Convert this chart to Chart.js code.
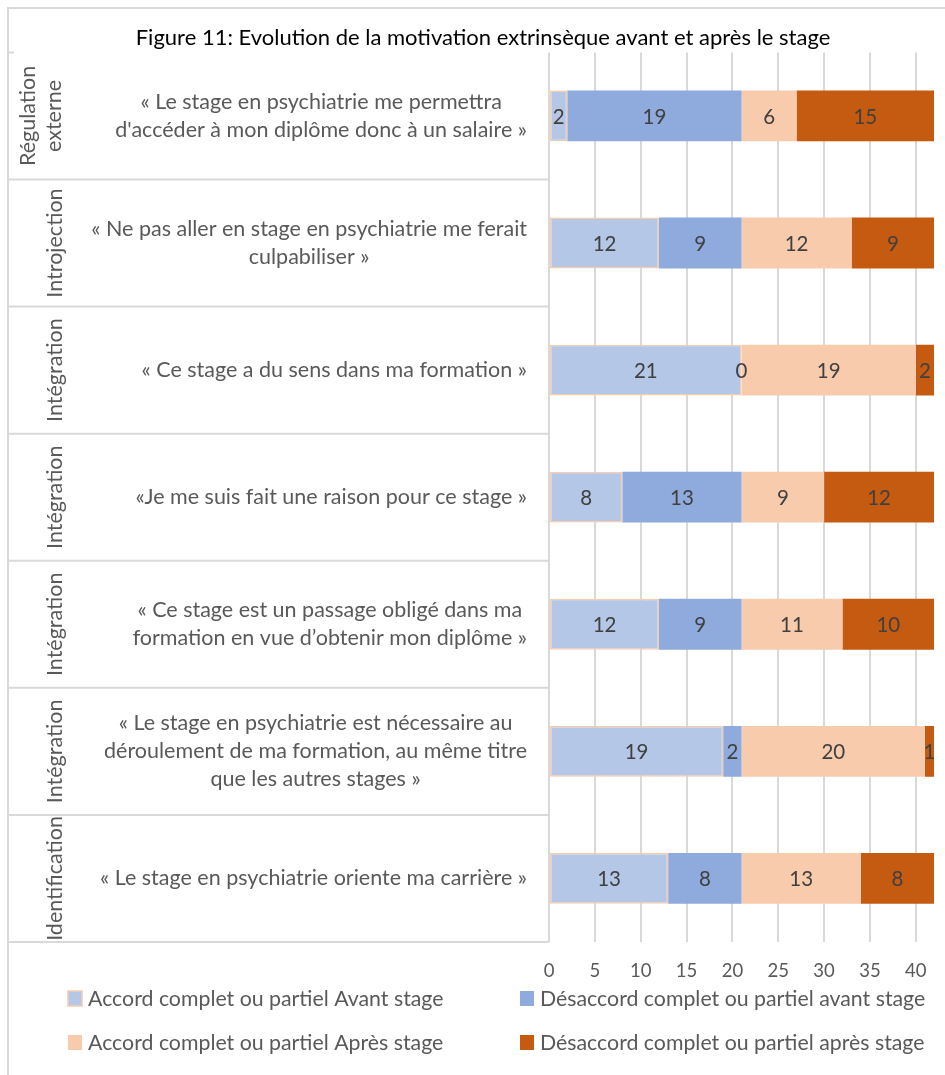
<!DOCTYPE html>
<html>
<head>
<meta charset="utf-8">
<script src="https://cdn.jsdelivr.net/npm/chart.js@4.4.1/dist/chart.umd.min.js"></script>
<style>
body{margin:0;background:#fff}
#wrap{width:945px;height:1075px}
</style>
</head>
<body>
<div id="wrap"><canvas id="c" width="945" height="1075"></canvas></div>
<script>

// data
const categories = [
["« Le stage en psychiatrie me permettra","d'accéder à mon diplôme donc à un salaire »"],
["« Ne pas aller en stage en psychiatrie me ferait","culpabiliser »"],
["« Ce stage a du sens dans ma formation »"],
["«Je me suis fait une raison pour ce stage »"],
["« Ce stage est un passage obligé dans ma","formation en vue d’obtenir mon diplôme »"],
["« Le stage en psychiatrie est nécessaire au","déroulement de ma formation, au même titre","que les autres stages »"],
["« Le stage en psychiatrie oriente ma carrière »"]
]

const groups = [
["Régulation","externe"],
["Introjection"],
["Intégration"],
["Intégration"],
["Intégration"],
["Intégration"],
["Identification"]
]

const seriesNames = [
"Accord complet ou partiel Avant stage",
"Désaccord complet ou partiel avant stage",
"Accord complet ou partiel Après stage",
"Désaccord complet ou partiel après stage"
]

const accordAvant    = [2,12,21,8,12,19,13]
const desaccordAvant = [19,9,0,13,9,2,8]
const accordApres    = [6,12,19,9,11,20,13]
const desaccordApres = [15,9,2,12,10,1,8]

const xTicks = [0,5,10,15,20,25,30,35,40]

const colors = ["#B4C7E7","#8FAADC","#F8CBAD","#C55A11"]
const FONT = "Lato, 'Open Sans', sans-serif"
const GREY = "#595959"
const LINE = "#D9D9D9"

// left table: frame, separators, group names, statements
const tablePlugin = {
id:"table",
beforeDraw(chart){
const ctx = chart.ctx
const a = chart.chartArea
const band = (a.bottom - a.top) / categories.length
ctx.save()
ctx.strokeStyle = LINE
ctx.lineWidth = 2
ctx.beginPath()
ctx.moveTo(8,chart.height)
ctx.lineTo(8,8)
ctx.lineTo(chart.width,8)
ctx.stroke()
ctx.beginPath()
ctx.moveTo(8,a.top)
ctx.lineTo(14,a.top)
for(let k=1;k<=categories.length;k++){
const y = a.top + k*band
ctx.moveTo(8,y)
ctx.lineTo(a.left,y)
}
ctx.stroke()

ctx.fillStyle = GREY
ctx.textBaseline = "middle"
ctx.textAlign = "center"
ctx.font = "21.5px " + FONT
categories.forEach((lines,i)=>{
const yc = chart.scales.y.getPixelForValue(i)
// group name, rotated
const g = groups[i]
const gx = g.length > 1 ? [28,54] : [55]
g.forEach((t,j)=>{
ctx.save()
ctx.translate(gx[j],yc)
ctx.rotate(-Math.PI/2)
ctx.fillText(t,0,0)
ctx.restore()
})
// statement, block right aligned, lines centred
let w = 0
lines.forEach(t=>{ w = Math.max(w, ctx.measureText(t).width) })
const cx = 527 - w/2
const lh = 28
lines.forEach((t,j)=>{
ctx.fillText(t, cx, yc + (j - (lines.length-1)/2)*lh)
})
})
ctx.restore()
}
}

// values in the middle of every segment
const valuePlugin = {
id:"values",
afterDatasetsDraw(chart){
const ctx = chart.ctx
ctx.save()
ctx.font = "20.5px " + FONT
ctx.fillStyle = "#404040"
ctx.textAlign = "center"
ctx.textBaseline = "middle"
chart.data.datasets.forEach((ds,i)=>{
chart.getDatasetMeta(i).data.forEach((el,j)=>{
ctx.fillText(ds.data[j], (el.x + el.base)/2, el.y + 1)
})
})
ctx.restore()
}
}

// legend in two columns under the axis
const legendPlugin = {
id:"legend2",
afterDraw(chart){
const ctx = chart.ctx
const b = chart.chartArea.bottom
const cols = [68,520]
const rows = [b+57, b+101]
ctx.save()
ctx.font = "21.3px " + FONT
ctx.textBaseline = "middle"
ctx.textAlign = "left"
chart.data.datasets.forEach((ds,i)=>{
const x = cols[i%2]
const y = rows[Math.floor(i/2)]
ctx.fillStyle = ds.backgroundColor
ctx.fillRect(x, y-8, 14, 15)
if(ds.borderWidth){
ctx.strokeStyle = ds.borderColor
ctx.lineWidth = 1.5
ctx.strokeRect(x, y-8, 14, 15)
}
ctx.fillStyle = GREY
ctx.fillText(ds.label, x+20, y)
})
ctx.restore()
}
}

const series = [accordAvant, desaccordAvant, accordApres, desaccordApres]

new Chart(document.getElementById("c"),{
type:"bar",
data:{
labels:categories,
datasets:series.map((d,i)=>({
label:seriesNames[i],
data:d,
backgroundColor:colors[i],
borderColor:i==0 ? "#F8CBAD" : colors[i],
borderWidth:i==0 ? 1.5 : 0,
borderSkipped:false,
categoryPercentage:1,
barPercentage:0.4
}))
},
options:{
indexAxis:"y",
responsive:false,
animation:false,
layout:{padding:{left:31,right:10,top:0,bottom:93}},
plugins:{
legend:{display:false},
tooltip:{enabled:false},
title:{
display:true,
text:"Figure 11: Evolution de la motivation extrinsèque avant et après le stage",
color:"#000",
font:{family:FONT,size:22,weight:"normal"},
padding:{top:25,bottom:1}
}
},
scales:{
x:{
stacked:true,
min:0,
max:42,
afterBuildTicks(scale){ scale.ticks = xTicks.map(v=>({value:v})) },
afterFit(scale){ scale.height = 40 },
border:{display:false},
grid:{color:LINE,lineWidth:2,drawTicks:false},
ticks:{color:GREY,font:{family:FONT,size:18.5},padding:18}
},
y:{
stacked:true,
afterFit(scale){ scale.width = 518 },
border:{display:false},
grid:{display:false},
ticks:{display:false}
}
}
},
plugins:[tablePlugin,valuePlugin,legendPlugin]
})

</script>
</body>
</html>
